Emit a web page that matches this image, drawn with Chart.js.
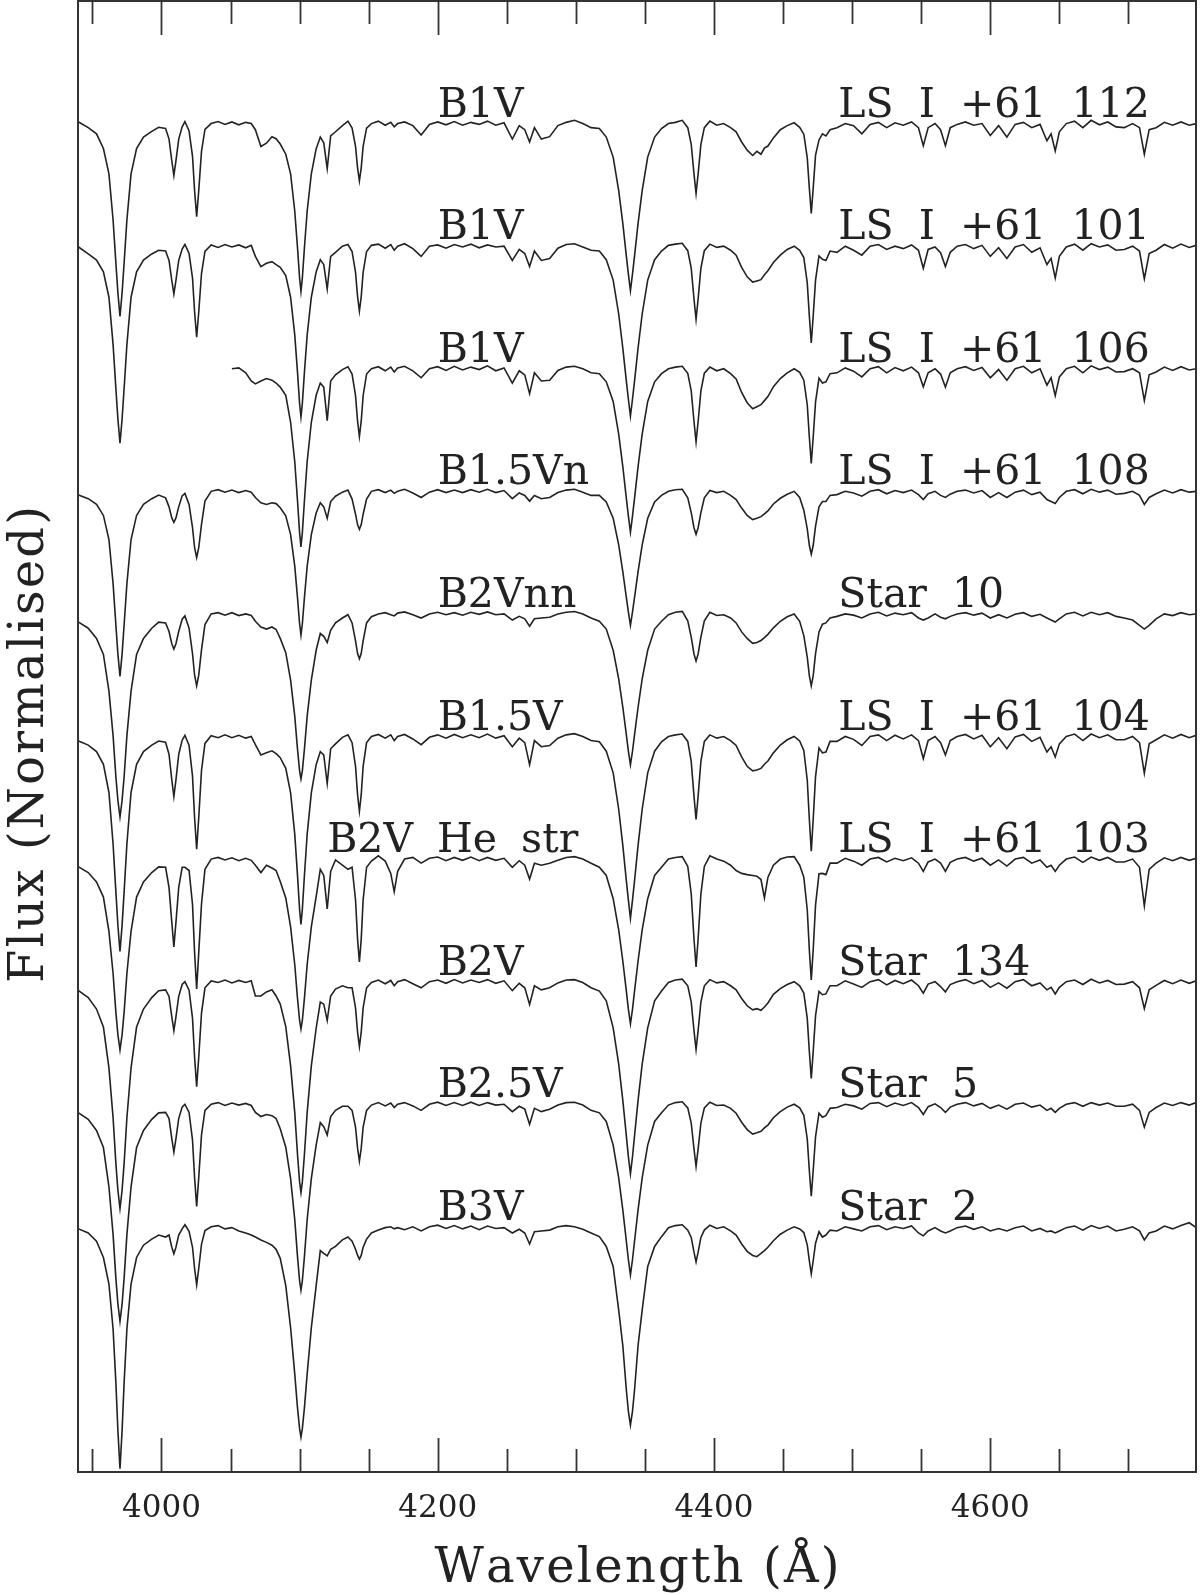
<!DOCTYPE html>
<html>
<head>
<meta charset="utf-8">
<title>B-star spectra</title>
<script src="https://cdn.jsdelivr.net/npm/chart.js@4.4.0/dist/chart.umd.min.js"></script>
<style>
  html, body { margin: 0; padding: 0; background: #fff; }
  canvas { display: block; }
</style>
</head>
<body>
<canvas id="spectra" width="1200" height="1595"></canvas>
<script>
// Wavelength grid (Angstrom) shared by all spectra
const wavelength = [
  3940, 3947, 3953, 3958, 3962, 3965, 3967, 3968.5, 3970, 3971.5, 3973, 3975, 3978, 3982, 3987, 3993, 3998,
  4003, 4005.5, 4007.5, 4009, 4010.5, 4012.5, 4015, 4017, 4020, 4022.5, 4024, 4025.5, 4027, 4029, 4031.5,
  4036, 4041, 4046, 4051, 4056, 4061, 4065, 4068, 4072, 4076, 4080, 4083,
  4086, 4090, 4093.5, 4096.5, 4098.5, 4100, 4101, 4102, 4103.5, 4105.5, 4108.5, 4112, 4115,
  4117.5, 4120, 4122.5, 4126, 4131, 4135, 4138, 4140.5, 4142, 4143.3, 4144.6, 4146, 4148.5,
  4152, 4157, 4162, 4166, 4168.5, 4171, 4176, 4182, 4188, 4194, 4200, 4206, 4212, 4218, 4224, 4230,
  4236, 4242, 4248, 4254, 4259, 4263, 4266.5, 4270, 4275, 4281, 4287, 4293, 4299, 4305, 4311,
  4317, 4322, 4327, 4331, 4334, 4336.5, 4338, 4339.5, 4341, 4342.5, 4345, 4348, 4352, 4357, 4362,
  4367, 4372, 4377, 4381, 4383.5, 4385.5, 4387, 4388.5, 4390.5, 4393, 4397, 4402, 4407, 4412, 4416,
  4420, 4424, 4428, 4431, 4434, 4436.5, 4439, 4443, 4448, 4453, 4458,
  4462, 4465, 4467.5, 4469, 4470.4, 4471.8, 4473.5, 4476, 4478.5, 4481, 4484,
  4489, 4495, 4501, 4507, 4513, 4519, 4525, 4531, 4537, 4543, 4548, 4551.5, 4555, 4560, 4564, 4567.5,
  4571, 4576, 4582, 4588, 4594, 4600, 4606, 4612, 4618,
  4624, 4630, 4636, 4641, 4644, 4647, 4650, 4655, 4661, 4667, 4673, 4679, 4685, 4691, 4697, 4703,
  4708, 4711.5, 4715, 4720, 4726, 4732, 4738, 4744, 4749
];

// Normalised flux, top spectrum first
const fluxLS112 = [
  1.004,0.99,0.975,0.939,0.877,0.764,0.66,0.585,0.528,0.585,0.66,0.764,0.877,0.939,0.967,0.981,0.991,
  0.988,0.962,0.909,0.873,0.909,0.962,0.992,1.005,0.982,0.92,0.836,0.772,0.836,0.932,0.986,
  1.0,1.005,0.998,1.004,0.997,1.003,1.0,0.985,0.944,0.952,0.968,0.963,
  0.95,0.925,0.877,0.786,0.696,0.622,0.589,0.622,0.696,0.786,0.877,0.938,0.967,
  0.953,0.89,0.97,0.98,0.995,1.006,0.989,0.944,0.891,0.86,0.891,0.944,0.989,
  1.0,1.006,0.996,1.003,0.992,1.0,1.004,0.995,0.972,0.998,1.004,0.997,1.005,0.996,1.003,0.998,1.006,0.996,1.002,0.962,0.995,0.985,0.955,0.99,0.962,0.968,0.995,1.003,1.008,1.0,0.99,
  0.988,0.967,0.918,0.836,0.755,0.677,0.632,0.591,0.632,0.677,0.755,0.836,0.918,0.967,0.988,
  1.0,1.003,1.008,0.99,0.949,0.877,0.829,0.877,0.949,0.99,1.006,0.996,1.0,0.99,0.98,
  0.955,0.935,0.922,0.932,0.925,0.94,0.945,0.965,0.985,0.995,1.002,0.991,0.974,0.916,0.842,0.78,0.842,0.923,0.96,0.975,0.97,0.985,
  0.99,1.0,0.995,0.975,0.998,1.003,0.99,1.002,0.996,1.004,0.99,0.946,0.99,1.0,0.985,0.946,0.99,0.998,1.004,0.996,1.0,0.971,0.995,0.967,0.998,
  1.003,0.99,0.998,0.958,0.975,0.933,0.98,1.0,1.006,0.99,1.008,0.997,1.004,0.992,0.99,1.0,0.99,0.925,0.985,0.99,1.003,0.996,1.004,0.996,1.0
];
const fluxLS101 = [
  0.998,0.981,0.966,0.937,0.875,0.759,0.653,0.576,0.518,0.576,0.653,0.759,0.875,0.937,0.966,0.981,0.99,
  0.988,0.965,0.916,0.883,0.916,0.965,0.993,1.004,0.982,0.922,0.839,0.777,0.839,0.933,0.987,
  1.003,0.997,1.004,0.998,1.003,0.996,1.002,0.975,0.95,0.958,0.962,0.955,
  0.948,0.928,0.875,0.783,0.691,0.615,0.582,0.615,0.691,0.783,0.875,0.937,0.967,
  0.955,0.895,0.975,0.985,1.0,1.004,0.987,0.936,0.876,0.841,0.876,0.936,0.987,
  1.002,1.005,0.995,1.004,0.99,1.0,1.006,0.994,0.975,1.0,1.003,0.995,1.004,0.998,1.005,0.996,1.003,0.998,1.0,0.965,0.992,0.982,0.95,0.988,0.965,0.97,0.995,1.004,1.006,0.998,0.99,
  0.988,0.967,0.917,0.834,0.75,0.671,0.626,0.584,0.626,0.671,0.75,0.834,0.917,0.967,0.988,
  1.002,1.005,1.007,0.989,0.946,0.871,0.821,0.871,0.946,0.989,1.005,0.997,1.0,0.99,0.978,
  0.948,0.925,0.912,0.915,0.918,0.93,0.94,0.96,0.978,0.992,1.0,0.99,0.972,0.91,0.829,0.763,0.829,0.917,0.976,0.968,0.965,0.988,
  0.985,1.0,0.99,0.978,1.0,1.004,0.992,1.0,0.994,1.003,0.99,0.946,0.992,0.998,0.984,0.95,0.985,1.0,1.004,0.994,1.002,0.975,0.996,0.97,0.998,
  1.004,0.985,0.996,0.955,0.97,0.922,0.975,0.998,1.005,0.99,1.006,0.998,1.003,0.99,0.992,1.0,0.988,0.92,0.982,0.99,1.004,0.995,1.005,0.997,1.002
];
const fluxLS106 = [
  null,null,null,null,null,null,null,null,null,null,null,null,null,null,null,null,null,
  null,null,null,null,null,null,null,null,null,null,null,null,null,null,null,
  null,null,null,1.0,1.002,0.99,0.97,0.963,0.97,0.976,0.972,0.965,
  0.955,0.935,0.869,0.773,0.677,0.599,0.564,0.599,0.677,0.773,0.869,0.935,0.965,
  0.955,0.873,0.97,0.985,0.998,1.005,0.987,0.934,0.871,0.834,0.871,0.934,0.987,
  1.0,1.005,0.995,1.004,0.992,1.002,1.006,0.995,0.978,1.0,1.005,0.996,1.006,0.997,1.004,0.998,1.007,0.995,1.002,0.965,0.995,0.985,0.939,0.99,0.97,0.972,0.996,1.004,1.006,1.0,0.99,
  0.988,0.968,0.92,0.84,0.76,0.684,0.64,0.6,0.64,0.684,0.76,0.84,0.92,0.968,0.988,
  1.0,1.004,1.006,0.989,0.946,0.871,0.821,0.871,0.946,0.989,1.004,0.995,1.0,0.988,0.975,
  0.942,0.917,0.902,0.907,0.912,0.922,0.932,0.956,0.976,0.99,1.0,0.991,0.972,0.912,0.833,0.768,0.833,0.919,0.977,0.965,0.968,0.988,
  0.99,1.002,0.994,0.98,1.0,1.005,0.99,1.003,0.995,1.004,0.99,0.956,0.99,1.0,0.987,0.955,0.99,1.0,1.005,0.996,1.003,0.978,0.998,0.972,1.0,
  1.006,0.99,1.0,0.96,0.978,0.934,0.98,1.0,1.006,0.99,1.007,0.998,1.004,0.992,0.993,1.0,0.99,0.922,0.985,0.992,1.004,0.996,1.005,0.997,1.0
];
const fluxLS108 = [
  0.991,0.982,0.968,0.941,0.882,0.774,0.674,0.601,0.547,0.601,0.674,0.774,0.882,0.941,0.968,0.982,0.991,
  0.984,0.962,0.935,0.924,0.935,0.962,0.989,0.995,0.968,0.911,0.862,0.838,0.862,0.919,0.976,
  1.0,1.004,0.998,1.003,0.997,1.002,0.998,0.985,0.972,0.968,0.972,0.97,
  0.96,0.94,0.894,0.817,0.74,0.676,0.648,0.676,0.74,0.817,0.894,0.947,0.972,
  0.962,0.934,0.975,0.988,0.998,1.003,0.981,0.944,0.918,0.907,0.918,0.944,0.981,
  1.0,1.004,0.997,1.003,0.995,1.0,1.005,0.996,0.985,0.998,1.004,0.997,1.003,0.997,1.004,0.998,1.005,0.997,1.002,0.982,0.996,0.99,0.976,0.99,0.982,0.985,0.997,1.003,1.005,0.998,0.99,
  0.99,0.974,0.934,0.869,0.803,0.741,0.705,0.672,0.705,0.741,0.803,0.869,0.934,0.974,0.99,
  1.0,1.004,1.005,0.984,0.948,0.911,0.895,0.911,0.948,0.984,1.002,0.997,1.0,0.99,0.98,
  0.959,0.941,0.931,0.934,0.938,0.945,0.952,0.969,0.983,0.993,1.0,0.985,0.954,0.908,0.868,0.846,0.868,0.915,0.962,0.975,0.975,0.99,
  0.992,1.0,0.996,0.988,1.0,1.004,0.994,1.002,0.997,1.003,0.992,0.98,0.994,1.0,0.99,0.985,0.993,1.0,1.003,0.996,1.002,0.985,0.997,0.985,0.998,
  1.003,0.992,0.998,0.98,0.975,0.97,0.985,1.0,1.004,0.994,1.005,0.998,1.003,0.993,0.995,1.0,0.99,0.968,0.985,0.994,1.003,0.996,1.004,0.998,1.0
];
const fluxStar10 = [
  0.98,0.965,0.94,0.901,0.811,0.702,0.602,0.543,0.503,0.543,0.602,0.702,0.811,0.901,0.94,0.965,0.98,
  0.978,0.957,0.927,0.914,0.927,0.957,0.987,0.995,0.965,0.903,0.85,0.824,0.85,0.912,0.974,
  1.0,1.003,0.997,1.003,0.996,1.0,0.996,0.982,0.968,0.963,0.968,0.962,
  0.94,0.905,0.838,0.75,0.669,0.616,0.596,0.616,0.669,0.75,0.838,0.911,0.952,
  0.945,0.93,0.96,0.978,0.99,0.998,0.978,0.934,0.903,0.89,0.903,0.934,0.978,
  0.993,1.0,1.003,0.998,0.995,1.002,1.005,0.998,0.99,1.0,1.004,0.998,1.003,0.997,1.004,0.999,1.005,0.998,1.0,0.985,0.994,0.988,0.97,0.988,0.99,0.992,1.0,1.004,1.006,1.0,0.99,
  0.982,0.963,0.911,0.841,0.771,0.705,0.664,0.631,0.664,0.705,0.771,0.841,0.911,0.963,0.982,
  0.998,1.004,1.006,0.983,0.943,0.902,0.885,0.902,0.943,0.983,1.004,0.996,0.998,0.99,0.978,
  0.956,0.94,0.928,0.93,0.935,0.942,0.95,0.966,0.982,0.993,1.0,0.982,0.947,0.894,0.849,0.824,0.849,0.903,0.956,0.975,0.978,0.99,
  0.994,1.0,0.997,0.99,1.0,1.004,0.995,1.002,0.998,1.003,0.99,0.985,0.99,1.0,0.992,0.988,0.994,1.0,1.003,0.997,1.002,0.99,0.998,0.99,0.999,
  1.003,0.994,0.999,0.99,0.985,0.98,0.988,1.0,1.004,0.995,1.004,0.998,1.003,0.994,0.99,0.985,0.972,0.963,0.972,0.988,1.0,0.996,1.003,0.998,1.0
];
const fluxLS104 = [
  0.989,0.979,0.963,0.932,0.863,0.737,0.621,0.537,0.474,0.537,0.621,0.737,0.863,0.932,0.963,0.979,0.989,
  0.986,0.956,0.894,0.853,0.894,0.956,0.991,1.003,0.978,0.903,0.801,0.724,0.801,0.917,0.983,
  1.002,0.997,1.004,0.997,1.003,0.996,1.0,0.98,0.955,0.96,0.965,0.958,
  0.948,0.922,0.862,0.761,0.66,0.577,0.54,0.577,0.66,0.761,0.862,0.931,0.963,
  0.955,0.885,0.97,0.982,0.998,1.004,0.985,0.927,0.857,0.817,0.857,0.927,0.985,
  1.0,1.005,0.996,1.004,0.99,1.0,1.005,0.994,0.98,0.998,1.004,0.996,1.005,0.997,1.004,0.997,1.006,0.996,1.002,0.975,0.996,0.985,0.931,0.99,0.975,0.978,0.996,1.004,1.007,1.0,0.99,
  0.987,0.964,0.911,0.822,0.733,0.648,0.6,0.555,0.6,0.648,0.733,0.822,0.911,0.964,0.987,
  1.0,1.004,1.006,0.988,0.939,0.854,0.797,0.854,0.939,0.988,1.004,0.996,1.0,0.99,0.978,
  0.95,0.927,0.916,0.918,0.922,0.932,0.94,0.96,0.979,0.992,1.0,0.989,0.966,0.893,0.798,0.719,0.798,0.902,0.972,0.96,0.962,0.988,
  0.988,1.0,0.993,0.978,1.0,1.004,0.99,1.003,0.994,1.004,0.99,0.946,0.99,1.0,0.985,0.955,0.99,1.0,1.005,0.994,1.003,0.975,0.997,0.97,0.999,
  1.005,0.988,0.998,0.962,0.975,0.95,0.982,1.0,1.006,0.99,1.006,0.997,1.004,0.992,0.992,1.0,0.985,0.91,0.982,0.992,1.004,0.996,1.005,0.997,1.003
];
const fluxLS103 = [
  0.981,0.967,0.944,0.907,0.823,0.72,0.626,0.57,0.533,0.57,0.626,0.72,0.823,0.907,0.944,0.967,0.981,
  0.98,0.93,0.845,0.785,0.845,0.93,0.98,0.98,0.972,0.889,0.771,0.682,0.771,0.89,0.975,
  1.0,1.004,0.998,1.003,0.996,1.002,0.997,0.985,0.967,0.985,0.978,0.972,
  0.945,0.905,0.834,0.742,0.659,0.605,0.584,0.605,0.659,0.742,0.834,0.908,0.975,
  0.96,0.878,0.97,0.998,0.985,0.975,0.98,0.9,0.803,0.748,0.803,0.9,0.98,
  0.995,1.008,0.995,0.965,0.92,0.97,1.0,1.004,0.99,1.002,1.005,0.996,1.004,0.997,1.005,0.996,1.004,0.997,1.002,0.98,0.996,0.985,0.951,0.99,0.985,0.99,0.997,1.004,1.006,1.0,0.99,
  0.98,0.96,0.903,0.827,0.75,0.678,0.633,0.597,0.633,0.678,0.75,0.827,0.903,0.96,0.98,
  1.0,1.004,1.006,0.982,0.915,0.805,0.736,0.805,0.915,0.982,1.008,1.0,0.995,0.985,0.972,
  0.965,0.962,0.96,0.958,0.95,0.905,0.955,0.985,1.0,1.005,1.006,0.985,0.956,0.876,0.778,0.704,0.778,0.888,0.964,0.965,0.962,0.99,
  0.99,1.002,0.995,0.985,1.0,1.004,0.993,1.002,0.996,1.003,0.99,0.97,0.993,1.0,0.99,0.97,0.992,1.0,1.004,0.995,1.002,0.985,0.998,0.983,1.0,
  1.004,0.99,0.998,0.98,0.985,0.97,0.985,1.0,1.005,0.992,1.005,0.997,1.004,0.993,0.993,1.0,0.98,0.885,0.975,0.99,1.003,0.996,1.004,0.997,1.002
];
const fluxStar134 = [
  0.978,0.961,0.933,0.889,0.789,0.667,0.556,0.489,0.445,0.489,0.556,0.667,0.789,0.889,0.933,0.961,0.978,
  0.98,0.964,0.914,0.88,0.914,0.964,0.993,1.0,0.979,0.91,0.815,0.743,0.815,0.923,0.985,
  1.002,0.998,1.004,0.997,1.003,0.998,1.002,0.965,0.965,0.975,0.98,0.965,
  0.945,0.89,0.794,0.68,0.577,0.51,0.484,0.51,0.577,0.68,0.794,0.886,0.95,
  0.945,0.905,0.965,0.982,0.99,0.985,0.985,0.936,0.876,0.841,0.876,0.936,0.985,
  0.998,1.004,0.995,1.003,0.99,1.0,1.005,0.995,0.985,1.0,1.004,0.996,1.005,0.997,1.004,0.998,1.005,0.996,1.002,0.978,0.996,0.985,0.944,0.99,0.98,0.985,0.997,1.004,1.005,0.998,0.985,
  0.977,0.953,0.887,0.798,0.709,0.624,0.572,0.53,0.572,0.624,0.709,0.798,0.887,0.953,0.977,
  0.998,1.004,1.006,0.99,0.95,0.88,0.834,0.88,0.95,0.99,1.005,0.997,1.0,0.99,0.98,
  0.959,0.941,0.931,0.934,0.93,0.938,0.948,0.969,0.983,0.993,1.0,0.99,0.972,0.91,0.829,0.763,0.829,0.917,0.976,0.968,0.97,0.99,
  0.99,1.002,0.994,0.986,1.0,1.005,0.992,1.003,0.995,1.004,0.99,0.972,0.994,1.0,0.988,0.975,0.993,1.0,1.005,0.995,1.003,0.986,0.997,0.984,1.0,
  1.005,0.99,0.997,0.98,0.986,0.97,0.986,1.0,1.004,0.993,1.006,0.997,1.003,0.993,0.994,1.0,0.985,0.934,0.98,0.991,1.003,0.995,1.004,0.996,1.002
];
const fluxStar5 = [
  0.979,0.963,0.936,0.894,0.798,0.681,0.575,0.511,0.469,0.511,0.575,0.681,0.798,0.894,0.936,0.963,0.979,
  0.98,0.965,0.916,0.883,0.916,0.965,0.993,1.0,0.98,0.912,0.82,0.75,0.82,0.925,0.985,
  1.0,1.004,0.997,1.003,0.998,1.002,0.997,0.98,0.97,0.975,0.972,0.965,
  0.94,0.895,0.818,0.718,0.627,0.568,0.545,0.568,0.627,0.718,0.818,0.9,0.955,
  0.945,0.925,0.97,0.985,0.995,0.995,0.985,0.944,0.892,0.861,0.892,0.944,0.985,
  0.998,1.004,0.996,1.003,0.992,1.0,1.004,0.996,0.985,1.0,1.005,0.997,1.004,0.997,1.005,0.997,1.004,0.998,1.0,0.982,0.995,0.988,0.951,0.99,0.982,0.988,0.998,1.004,1.005,0.998,0.985,
  0.979,0.958,0.9,0.82,0.741,0.666,0.62,0.582,0.62,0.666,0.741,0.82,0.9,0.958,0.979,
  0.998,1.004,1.006,0.991,0.954,0.891,0.848,0.891,0.954,0.991,1.005,0.997,0.998,0.99,0.978,
  0.956,0.938,0.927,0.93,0.934,0.942,0.949,0.967,0.982,0.993,1.0,0.991,0.973,0.915,0.838,0.775,0.838,0.921,0.978,0.968,0.972,0.99,
  0.992,1.0,0.996,0.988,1.002,1.004,0.994,1.003,0.997,1.004,0.992,0.975,0.994,1.001,0.992,0.98,0.993,1.0,1.004,0.996,1.002,0.99,0.998,0.988,1.0,
  1.003,0.993,0.998,0.985,0.99,0.98,0.99,1.0,1.004,0.995,1.004,0.998,1.003,0.995,0.995,1.0,0.985,0.944,0.98,0.992,1.003,0.997,1.004,0.998,1.004
];
const fluxStar2 = [
  0.995,0.985,0.965,0.925,0.86,0.75,0.62,0.5,0.408,0.5,0.62,0.75,0.86,0.925,0.955,0.97,0.98,
  0.975,0.98,0.95,0.934,0.95,0.98,0.995,1.005,0.989,0.95,0.898,0.858,0.898,0.957,0.991,
  1.0,1.003,0.995,0.998,0.99,0.985,0.98,0.975,0.968,0.962,0.955,0.945,
  0.923,0.856,0.753,0.64,0.557,0.506,0.485,0.506,0.557,0.64,0.753,0.856,0.942,
  0.935,0.929,0.945,0.952,0.968,0.975,0.965,0.945,0.93,0.921,0.93,0.95,0.97,
  0.985,0.992,0.998,1.0,0.995,0.998,0.993,1.0,0.99,1.0,1.004,0.996,1.003,0.995,1.002,0.993,1.002,0.996,0.998,0.985,0.994,0.985,0.958,0.988,0.99,0.992,1.0,1.003,1.0,0.994,0.985,
  0.976,0.952,0.903,0.796,0.709,0.602,0.549,0.515,0.549,0.602,0.709,0.796,0.903,0.952,0.976,
  0.998,1.003,1.005,0.992,0.974,0.938,0.914,0.938,0.974,0.992,1.004,0.996,1.0,0.99,0.98,
  0.958,0.94,0.93,0.927,0.935,0.942,0.95,0.966,0.982,0.992,1.0,0.995,0.986,0.956,0.917,0.885,0.917,0.96,0.988,0.975,0.98,0.992,
  0.99,1.0,0.995,0.99,1.0,1.003,0.993,1.0,0.996,1.002,0.985,0.978,0.99,0.998,0.99,0.985,0.99,0.998,1.002,0.994,1.0,0.99,0.996,0.99,0.998,
  1.002,0.99,0.996,0.988,0.99,0.985,0.99,0.998,1.002,0.992,1.003,0.996,1.002,0.99,0.994,1.0,0.99,0.968,0.985,0.99,1.002,0.995,1.003,1.01,0.998
];

const spectra = [fluxLS112, fluxLS101, fluxLS106, fluxLS108, fluxStar10,
                 fluxLS104, fluxLS103, fluxStar134, fluxStar5, fluxStar2];
const spectralTypes = ['B1V', 'B1V', 'B1V', 'B1.5Vn', 'B2Vnn', 'B1.5V', 'B2V He str', 'B2V', 'B2.5V', 'B3V'];
const starNames = ['LS I +61 112', 'LS I +61 101', 'LS I +61 106', 'LS I +61 108', 'Star 10',
                   'LS I +61 104', 'LS I +61 103', 'Star 134', 'Star 5', 'Star 2'];
const tickLabels = [4000, 4200, 4400, 4600];
const minorTicks = [3950, 4050, 4100, 4150, 4250, 4300, 4350, 4450, 4500, 4550, 4650, 4700];

const STEP = 0.3;   // vertical offset between spectra
const FONT = '"DejaVu Serif", "Liberation Serif", serif';
const INK = '#222';

spectra.forEach((f, i) => {
  if (f.length !== wavelength.length) console.warn('length mismatch', i, f.length);
});

const datasets = spectra.map((flux, i) => {
  const off = (spectra.length - 1 - i) * STEP;
  return {
    data: wavelength.map((w, j) => ({ x: w, y: flux[j] == null ? null : flux[j] + off })),
    borderColor: INK,
    borderWidth: 1.6,
    pointRadius: 0,
    tension: 0,
    spanGaps: false
  };
});

// draw words with a wider gap, like the original plot lettering
function wideText(ctx, text, x, y, gap) {
  const space = ctx.measureText(' ').width + gap;
  text.split(' ').forEach(word => {
    ctx.fillText(word, x, y);
    x += ctx.measureText(word).width + space;
  });
}

function spacedText(ctx, text, x, y, spacing) {
  const chars = Array.from(text);
  const total = chars.reduce((s, c) => s + ctx.measureText(c).width, 0) + spacing * (chars.length - 1);
  let cx = x - total / 2;
  chars.forEach(c => {
    ctx.fillText(c, cx, y);
    cx += ctx.measureText(c).width + spacing;
  });
}

// frame, ticks, axis text and spectrum labels
const framePlugin = {
  id: 'framePlugin',
  afterDraw(chart) {
    const { ctx, chartArea: a, scales: { x, y } } = chart;
    ctx.save();
    ctx.strokeStyle = '#333';
    ctx.lineWidth = 2;
    ctx.strokeRect(a.left, a.top, a.right - a.left, a.bottom - a.top);

    const tick = (w, len) => {
      const px = Math.round(x.getPixelForValue(w)) + 0.5;
      ctx.beginPath();
      ctx.moveTo(px, a.bottom); ctx.lineTo(px, a.bottom - len);
      ctx.moveTo(px, a.top); ctx.lineTo(px, a.top + len);
      ctx.stroke();
    };
    ctx.lineWidth = 1.8;
    minorTicks.forEach(w => tick(w, 23));
    tickLabels.forEach(w => tick(w, 34));

    ctx.fillStyle = INK;
    ctx.textBaseline = 'alphabetic';
    ctx.textAlign = 'center';
    ctx.font = '31px ' + FONT;
    tickLabels.forEach(w => ctx.fillText(String(w), x.getPixelForValue(w), 1517));

    ctx.textAlign = 'left';
    ctx.font = '48px ' + FONT;
    spacedText(ctx, 'Wavelength (\u00c5)', (a.left + a.right) / 2, 1582, 2.2);

    ctx.save();
    ctx.translate(43, (a.top + a.bottom) / 2 + 8);
    ctx.rotate(-Math.PI / 2);
    spacedText(ctx, 'Flux (Normalised)', 0, 0, 2.2);
    ctx.restore();

    ctx.font = '41px ' + FONT;
    spectralTypes.forEach((t, i) => {
      const base = y.getPixelForValue(1 + (spectra.length - 1 - i) * STEP) - 7;
      const lx = t.indexOf('He') >= 0 ? 4120 : 4200;
      wideText(ctx, t, x.getPixelForValue(lx), base, 11);
      wideText(ctx, starNames[i], x.getPixelForValue(4490), base, 12);
    });
    ctx.restore();
  }
};

new Chart(document.getElementById('spectra'), {
  type: 'line',
  data: { datasets },
  options: {
    responsive: false,
    animation: false,
    devicePixelRatio: 1,
    layout: { padding: { left: 78, right: 4, top: 1, bottom: 123 } },
    scales: {
      x: { type: 'linear', min: 3939.6, max: 4748.9, display: false },
      y: { type: 'linear', min: 0.4, max: 4.0, display: false }
    },
    plugins: { legend: { display: false }, tooltip: { enabled: false } }
  },
  plugins: [framePlugin]
});
</script>
</body>
</html>
